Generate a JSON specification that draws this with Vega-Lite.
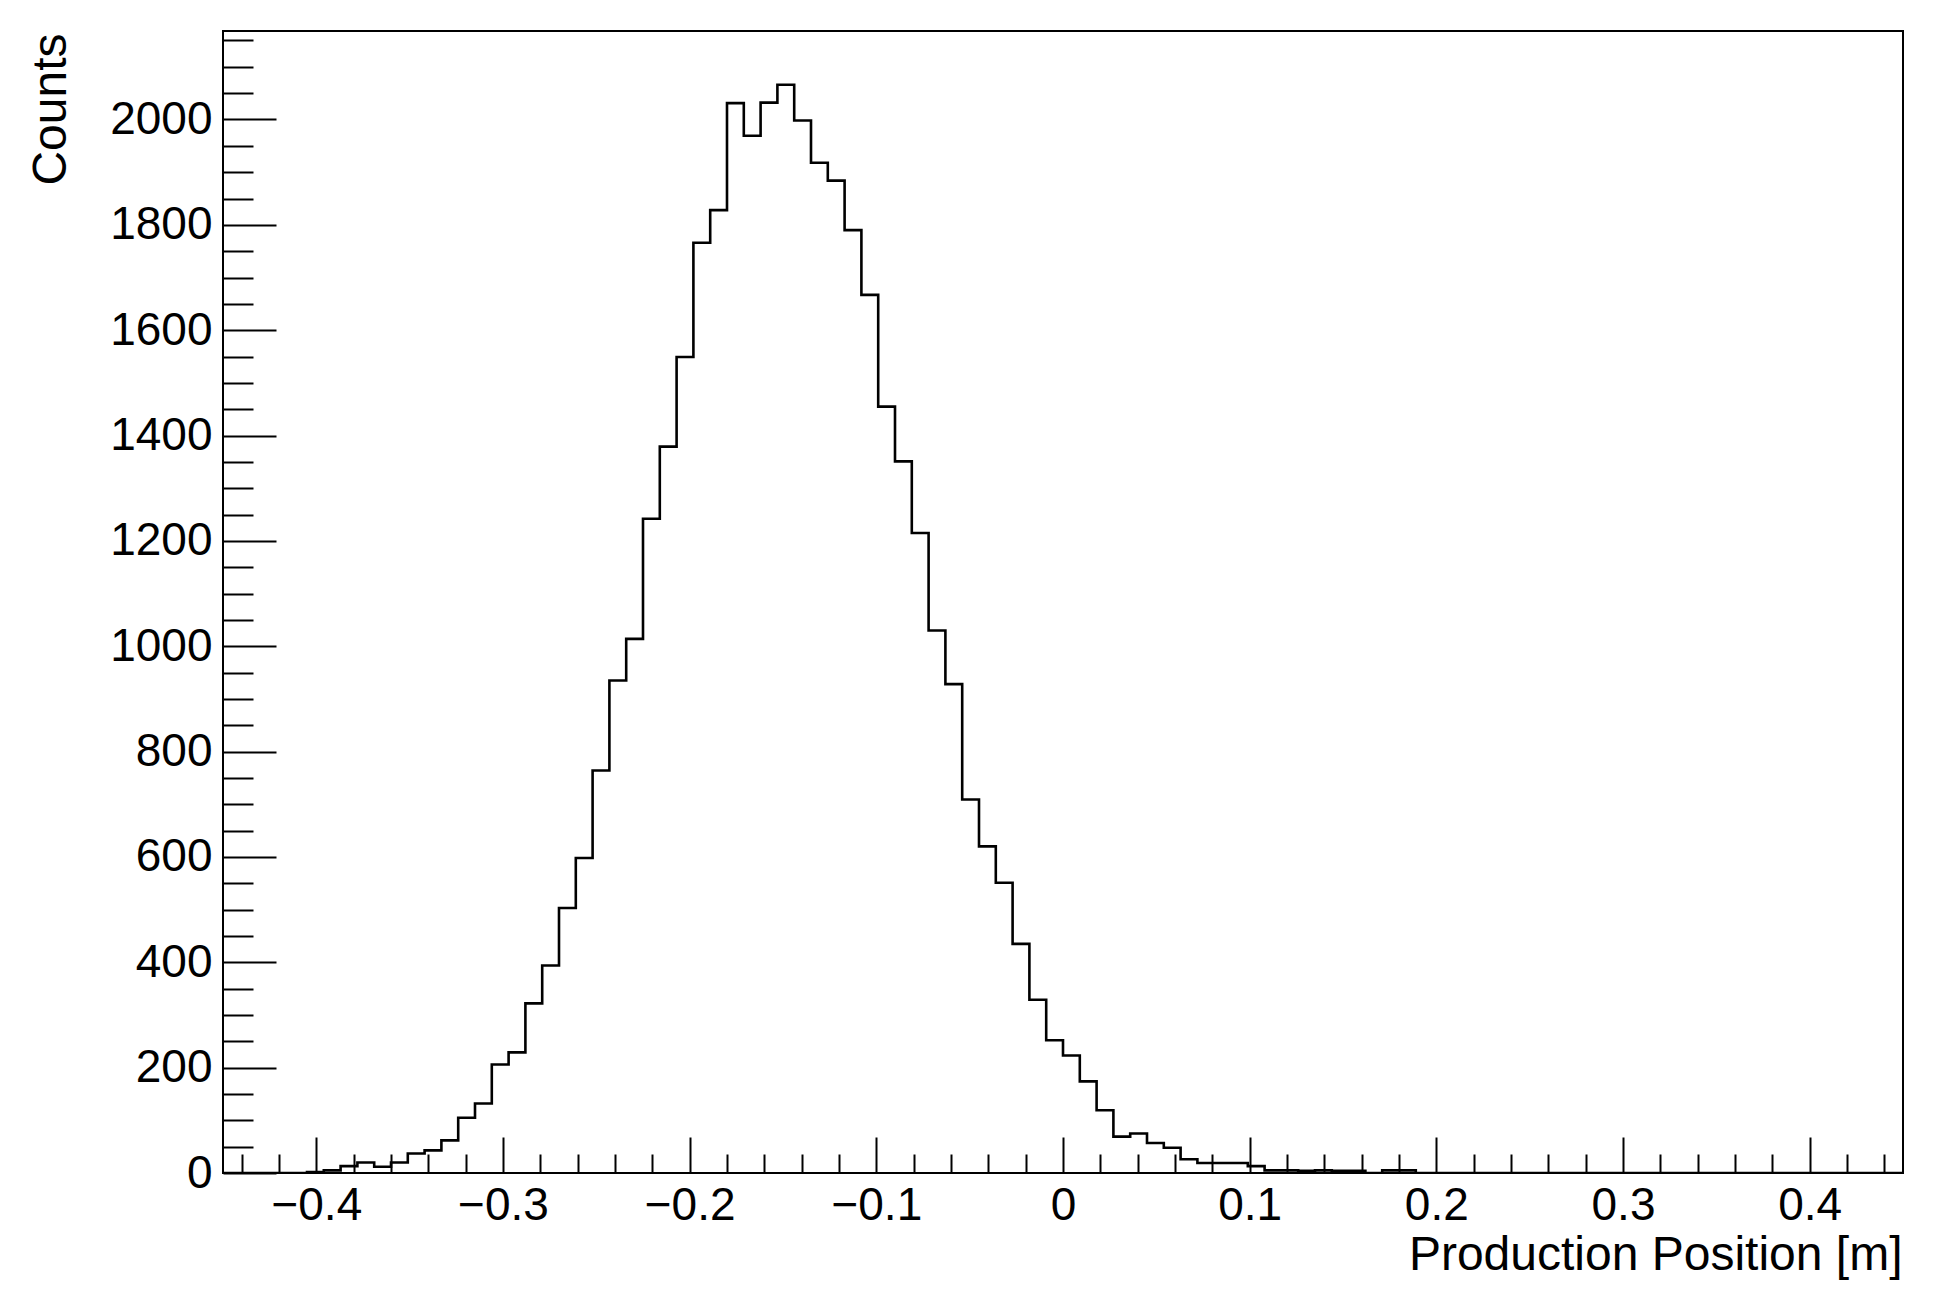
{
  "$schema": "https://vega.github.io/schema/vega-lite/v6.json",
  "width": 1680,
  "height": 1142,
  "autosize": {"type": "none"},
  "padding": {"left": 223, "top": 31, "right": 32, "bottom": 131},
  "background": "white",
  "config": {
    "view": {"stroke": "black", "strokeWidth": 2},
    "axis": {
      "domain": false,
      "grid": false,
      "tickColor": "black",
      "tickWidth": 2,
      "labelFont": "Liberation Sans",
      "labelFontSize": 46,
      "labelColor": "black",
      "titleFont": "Liberation Sans",
      "titleFontSize": 48,
      "titleFontWeight": "normal",
      "titleColor": "black"
    }
  },
  "data": {
    "values": [
      {"x": -0.45, "count": 0}, {"x": -0.441, "count": 0}, {"x": -0.432, "count": 0}, {"x": -0.423, "count": 0},
      {"x": -0.414, "count": 0}, {"x": -0.405, "count": 2}, {"x": -0.396, "count": 5}, {"x": -0.387, "count": 13},
      {"x": -0.378, "count": 20}, {"x": -0.369, "count": 12}, {"x": -0.36, "count": 20}, {"x": -0.351, "count": 37},
      {"x": -0.342, "count": 43}, {"x": -0.333, "count": 62}, {"x": -0.324, "count": 105}, {"x": -0.315, "count": 132},
      {"x": -0.306, "count": 206}, {"x": -0.297, "count": 229}, {"x": -0.288, "count": 322}, {"x": -0.279, "count": 394},
      {"x": -0.27, "count": 503}, {"x": -0.261, "count": 598}, {"x": -0.252, "count": 764}, {"x": -0.243, "count": 935},
      {"x": -0.234, "count": 1014}, {"x": -0.225, "count": 1242}, {"x": -0.216, "count": 1379}, {"x": -0.207, "count": 1549},
      {"x": -0.198, "count": 1766}, {"x": -0.189, "count": 1828}, {"x": -0.18, "count": 2031}, {"x": -0.171, "count": 1969},
      {"x": -0.162, "count": 2032}, {"x": -0.153, "count": 2066}, {"x": -0.144, "count": 1998}, {"x": -0.135, "count": 1918},
      {"x": -0.126, "count": 1884}, {"x": -0.117, "count": 1790}, {"x": -0.108, "count": 1667}, {"x": -0.099, "count": 1455},
      {"x": -0.09, "count": 1351}, {"x": -0.081, "count": 1215}, {"x": -0.072, "count": 1030}, {"x": -0.063, "count": 928},
      {"x": -0.054, "count": 709}, {"x": -0.045, "count": 620}, {"x": -0.036, "count": 551}, {"x": -0.027, "count": 435},
      {"x": -0.018, "count": 329}, {"x": -0.009, "count": 252}, {"x": 0, "count": 223}, {"x": 0.009, "count": 174},
      {"x": 0.018, "count": 119}, {"x": 0.027, "count": 69}, {"x": 0.036, "count": 75}, {"x": 0.045, "count": 57},
      {"x": 0.054, "count": 48}, {"x": 0.063, "count": 26}, {"x": 0.072, "count": 19}, {"x": 0.081, "count": 19},
      {"x": 0.09, "count": 19}, {"x": 0.099, "count": 13}, {"x": 0.108, "count": 5}, {"x": 0.117, "count": 5},
      {"x": 0.126, "count": 4}, {"x": 0.135, "count": 5}, {"x": 0.144, "count": 4}, {"x": 0.153, "count": 4},
      {"x": 0.162, "count": 0}, {"x": 0.171, "count": 5}, {"x": 0.18, "count": 5}, {"x": 0.189, "count": 0},
      {"x": 0.198, "count": 0}, {"x": 0.207, "count": 0}, {"x": 0.216, "count": 0}, {"x": 0.225, "count": 0},
      {"x": 0.234, "count": 0}, {"x": 0.243, "count": 0}, {"x": 0.252, "count": 0}, {"x": 0.261, "count": 0},
      {"x": 0.27, "count": 0}, {"x": 0.279, "count": 0}, {"x": 0.288, "count": 0}, {"x": 0.297, "count": 0},
      {"x": 0.306, "count": 0}, {"x": 0.315, "count": 0}, {"x": 0.324, "count": 0}, {"x": 0.333, "count": 0},
      {"x": 0.342, "count": 0}, {"x": 0.351, "count": 0}, {"x": 0.36, "count": 0}, {"x": 0.369, "count": 0},
      {"x": 0.378, "count": 0}, {"x": 0.387, "count": 0}, {"x": 0.396, "count": 0}, {"x": 0.405, "count": 0},
      {"x": 0.414, "count": 0}, {"x": 0.423, "count": 0}, {"x": 0.432, "count": 0}, {"x": 0.441, "count": 0},
      {"x": 0.45, "count": 0}
    ]
  },
  "layer": [
    {
      "mark": {"type": "line", "interpolate": "step-after", "color": "black", "strokeWidth": 2.6, "clip": true},
      "encoding": {
        "x": {
          "field": "x", "type": "quantitative",
          "scale": {"domain": [-0.45, 0.45], "nice": false, "zero": false},
          "axis": {
            "orient": "bottom",
            "values": [-0.4, -0.3, -0.2, -0.1, 0, 0.1, 0.2, 0.3, 0.4],
            "format": ".1~f",
            "tickSize": -36,
            "labelPadding": 46,
            "labelFlush": false,
            "labelOverlap": false,
            "title": "Production Position [m]",
            "titleAnchor": "end",
            "titleAlign": "right",
            "titleBaseline": "alphabetic",
            "titleX": 1679,
            "titleY": 96
          }
        },
        "y": {
          "field": "count", "type": "quantitative",
          "scale": {"domain": [0, 2168], "nice": false},
          "axis": {
            "orient": "left",
            "values": [0, 200, 400, 600, 800, 1000, 1200, 1400, 1600, 1800, 2000],
            "format": "d",
            "tickSize": -53,
            "labelPadding": 64,
            "labelFlush": false,
            "labelOverlap": false,
            "title": "Counts",
            "titleAnchor": "end",
            "titleAlign": "right",
            "titleAngle": -90,
            "titleBaseline": "alphabetic",
            "titleX": -158,
            "titleY": 2
          }
        }
      }
    },
    {
      "mark": {"type": "line", "interpolate": "step-after", "opacity": 0},
      "encoding": {
        "x": {
          "field": "x", "type": "quantitative",
          "axis": {
            "orient": "bottom",
            "values": [-0.44, -0.42, -0.38, -0.36, -0.34, -0.32, -0.28, -0.26, -0.24, -0.22, -0.18, -0.16, -0.14, -0.12, -0.08, -0.06, -0.04, -0.02, 0.02, 0.04, 0.06, 0.08, 0.12, 0.14, 0.16, 0.18, 0.22, 0.24, 0.26, 0.28, 0.32, 0.34, 0.36, 0.38, 0.42, 0.44],
            "tickSize": -19,
            "labels": false,
            "title": null
          }
        },
        "y": {
          "field": "count", "type": "quantitative",
          "axis": {
            "orient": "left",
            "values": [50, 100, 150, 250, 300, 350, 450, 500, 550, 650, 700, 750, 850, 900, 950, 1050, 1100, 1150, 1250, 1300, 1350, 1450, 1500, 1550, 1650, 1700, 1750, 1850, 1900, 1950, 2050, 2100, 2150],
            "tickSize": -30,
            "labels": false,
            "title": null
          }
        }
      }
    }
  ],
  "resolve": {"axis": {"x": "independent", "y": "independent"}}
}
